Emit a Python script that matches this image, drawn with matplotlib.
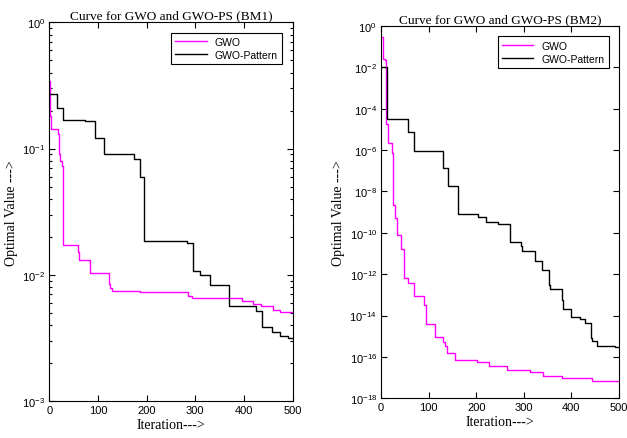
import numpy as np
import matplotlib
matplotlib.use("Agg")
import matplotlib.pyplot as plt
from matplotlib.ticker import LogLocator, NullFormatter, FixedLocator

# BM1 convergence (step curves: iteration where the value changes, value)
bm1_gwo_x = [0, 1, 3.5, 17, 21, 23, 26, 28.7, 59.6, 61, 83.6, 122.6, 125, 128,
             186, 285.6, 294, 397, 418, 436, 460, 474, 500]
bm1_gwo_y = [0.345, 0.18, 0.143, 0.13, 0.0906, 0.08, 0.073, 0.0173, 0.0151, 0.0132,
             0.01035, 0.0084, 0.0079, 0.0074, 0.00728, 0.00685, 0.00653, 0.00625,
             0.00589, 0.00564, 0.0053, 0.00506, 0.0050]

bm1_ps_x = [0, 15, 27.4, 73, 94, 113, 174.6, 186, 195, 283.5, 294.5, 310, 330,
            369.8, 424.6, 436.5, 457, 474, 491, 500]
bm1_ps_y = [0.272, 0.21, 0.169, 0.164, 0.121, 0.0906, 0.0828, 0.0593, 0.01845,
            0.0178, 0.0108, 0.0100, 0.0083, 0.0057, 0.00515, 0.00385, 0.00351,
            0.0033, 0.00316, 0.00316]

# BM2 convergence, exponents (value = 10^-d)
bm2_gwo_x = [0, 3.5, 4.9, 8.4, 9.8, 10.5, 15.4, 22.4, 24.5, 26, 29.4, 33, 41.3,
             48.3, 57.4, 70, 91, 94.5, 113.4, 131, 134.4, 139.4, 155.5, 201,
             227.6, 264, 313, 340, 380, 443, 500]
bm2_gwo_d = [0.52, 0.68, 1.58, 1.66, 1.82, 4.73, 5.66, 6.16, 7.6, 8.64, 9.3, 10.1,
             10.79, 12.2, 12.41, 13.06, 13.47, 14.42, 15.04, 15.28, 15.45, 15.8,
             16.17, 16.25, 16.45, 16.61, 16.74, 16.9, 17.03, 17.15, 17.15]

bm2_ps_x = [0, 12, 57.4, 70, 131, 141, 162, 204.5, 220, 246.5, 270, 293, 297,
            323.5, 337.6, 353.6, 356, 379.6, 381.5, 398.5, 418, 429, 440.5, 444,
            453, 491.6, 500]
bm2_ps_d = [2.0, 4.5, 5.14, 6.03, 6.87, 7.73, 9.07, 9.23, 9.46, 9.59, 10.45, 10.65,
            10.9, 11.35, 11.8, 12.5, 12.73, 13.24, 13.7, 14.06, 14.18, 14.35, 15.1,
            15.22, 15.48, 15.54, 15.54]

plt.rcParams['font.family'] = ['Liberation Sans', 'DejaVu Sans']
plt.rcParams['mathtext.fontset'] = 'custom'
plt.rcParams['mathtext.rm'] = 'Liberation Sans'
plt.rcParams['mathtext.it'] = 'Liberation Sans:italic'
serif = ['Liberation Serif', 'DejaVu Serif']

fig = plt.figure(figsize=(6.27, 4.39), dpi=100)
ax1 = fig.add_axes([0.0786, 0.0843, 0.388, 0.8626])
ax2 = fig.add_axes([0.6077, 0.0904, 0.3796, 0.848])

ax1.plot(bm1_gwo_x, bm1_gwo_y, color='#ff00ff', lw=1, drawstyle='steps-post', label='GWO')
ax1.plot(bm1_ps_x, bm1_ps_y, color='black', lw=1, drawstyle='steps-post', label='GWO-Pattern')
ax2.plot(bm2_gwo_x, 10.0 ** -np.array(bm2_gwo_d), color='#ff00ff', lw=1,
         drawstyle='steps-post', label='GWO')
ax2.plot(bm2_ps_x, 10.0 ** -np.array(bm2_ps_d), color='black', lw=1,
         drawstyle='steps-post', label='GWO-Pattern')

for ax, title, ylim in [(ax1, 'Curve for GWO and GWO-PS (BM1)', (1e-3, 1)),
                        (ax2, 'Curve for GWO and GWO-PS (BM2)', (1e-18, 1))]:
    ax.set_yscale('log')
    ax.set_xlim(0, 500)
    ax.set_ylim(*ylim)
    ax.set_xticks([0, 100, 200, 300, 400, 500])
    ax.set_title(title, family=serif, fontsize=9.5, pad=3)
    ax.set_xlabel('Iteration--->', family=serif, fontsize=10, labelpad=2)
    ax.set_ylabel('Optimal Value --->', family=serif, fontsize=10, labelpad=3)
    ax.tick_params(which='both', direction='in', top=True, right=True,
                   labelsize=8, width=0.8, pad=3)
    ax.tick_params(which='major', length=4)
    ax.tick_params(which='minor', length=2.5)
    for s in ax.spines.values():
        s.set_linewidth(0.8)
    leg = ax.legend(loc='upper right', fontsize=7.5, fancybox=False,
                    edgecolor='black', framealpha=1, handlelength=3,
                    borderaxespad=1.0, borderpad=0.4, labelspacing=0.3)
    leg.get_frame().set_linewidth(0.8)

ax1.yaxis.set_minor_locator(LogLocator(base=10, subs=np.arange(2, 10)))
ax1.yaxis.set_minor_formatter(NullFormatter())
ax2.yaxis.set_major_locator(FixedLocator([10.0 ** -k for k in range(0, 19, 2)]))
ax2.yaxis.set_minor_locator(FixedLocator([]))

fig.savefig('out.png', dpi=100)
